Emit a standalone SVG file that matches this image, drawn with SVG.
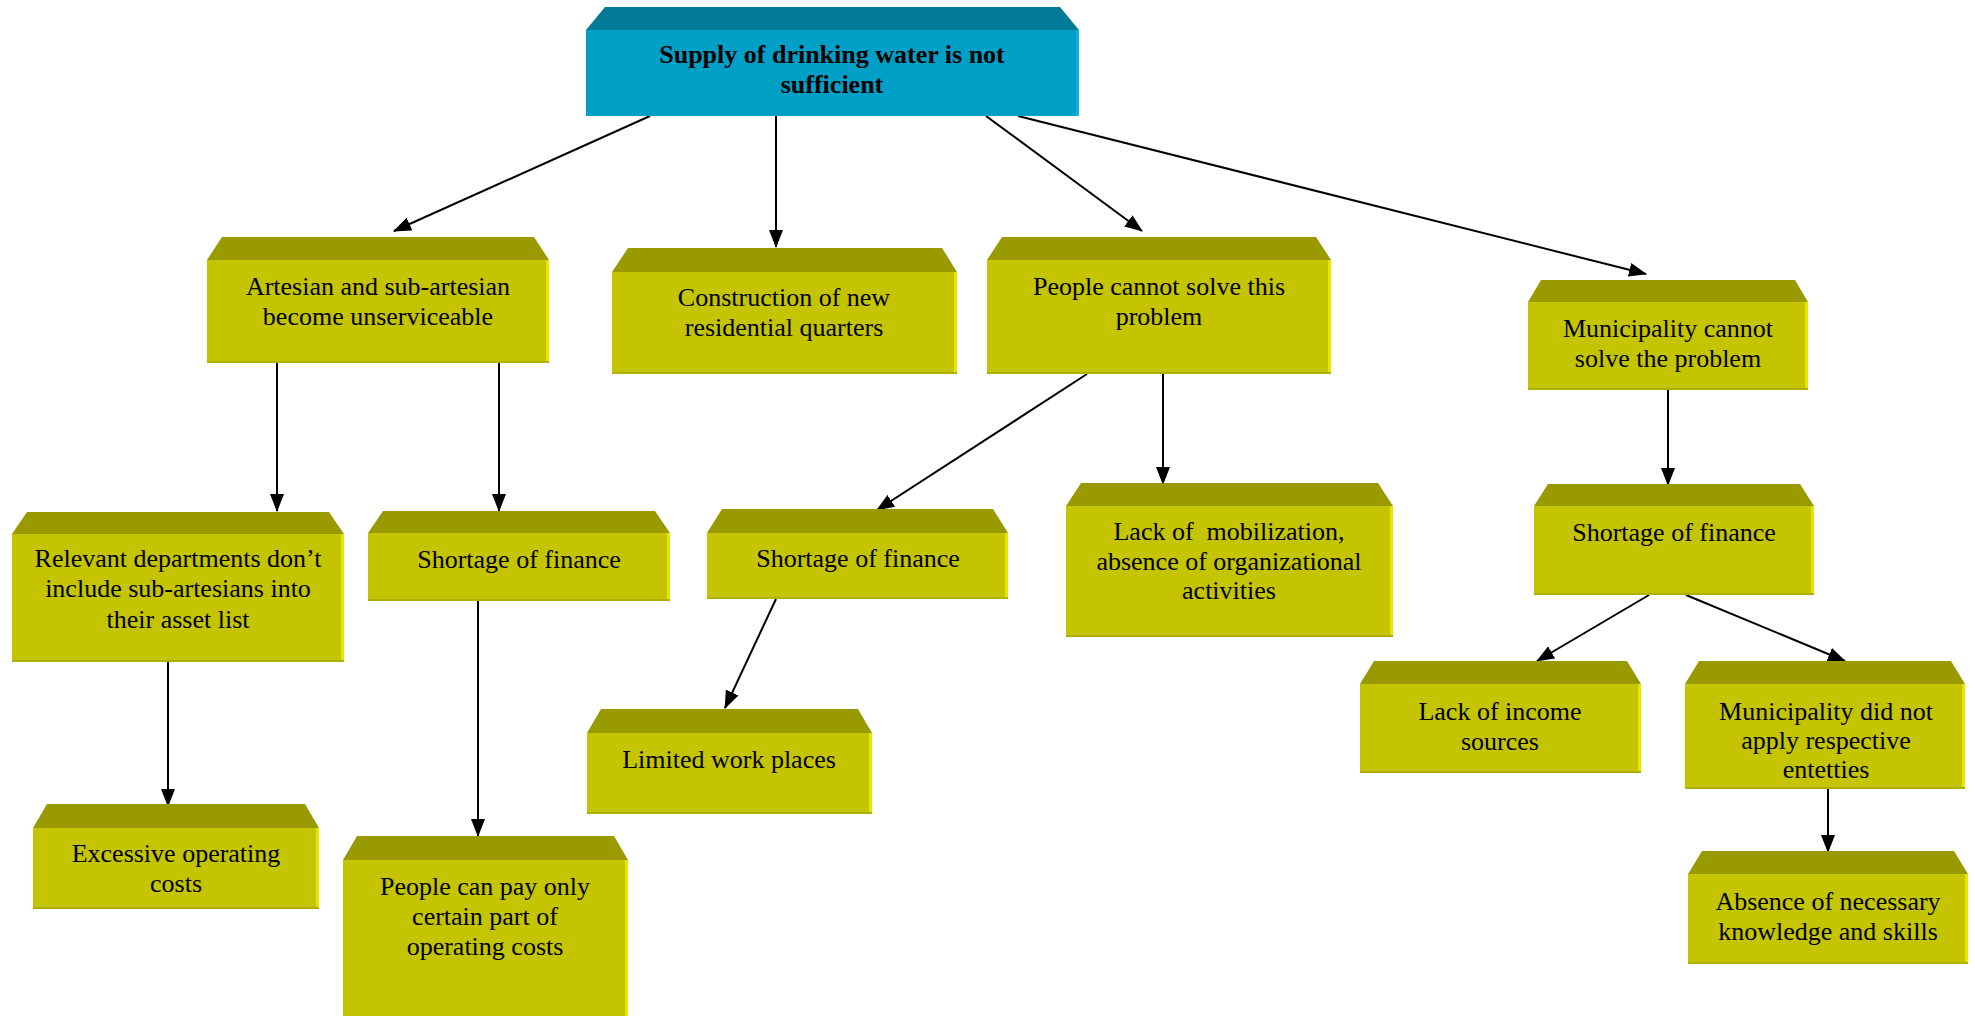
<svg xmlns="http://www.w3.org/2000/svg" width="1975" height="1016" viewBox="0 0 1975 1016">
<style>
.top{fill:#999900}
.front{fill:#C4C400}
.edge{fill:#E6E600}
.btm{fill:#B0B000}
.ttop{fill:#007A96}
.tfront{fill:#009FC6}
.tedge{fill:#10B0D8}
text{font-family:"Liberation Serif","Times New Roman",serif;font-size:26px;fill:#000;text-anchor:middle}
.bold{font-weight:bold}
.conn line{stroke:#000;stroke-width:2;marker-end:url(#arr)}
</style>
<defs>
<marker id="arr" markerUnits="userSpaceOnUse" markerWidth="18" markerHeight="14" refX="17" refY="7" orient="auto">
<path d="M0,0 L18,7 L0,14 z" fill="#000"/>
</marker>
</defs>
<rect width="1975" height="1016" fill="#fff"/>

<g id="connectors" class="conn">
<line x1="650" y1="116" x2="394" y2="231"/>
<line x1="776" y1="116" x2="776" y2="247"/>
<line x1="986" y1="116" x2="1142" y2="231"/>
<line x1="1018" y1="116" x2="1646" y2="274"/>
<line x1="277" y1="363" x2="277" y2="511"/>
<line x1="499" y1="363" x2="499" y2="511"/>
<line x1="168" y1="662" x2="168" y2="806"/>
<line x1="478" y1="601" x2="478" y2="836"/>
<line x1="1087" y1="374" x2="877" y2="510"/>
<line x1="1163" y1="374" x2="1163" y2="484"/>
<line x1="776" y1="599" x2="725" y2="708"/>
<line x1="1668" y1="390" x2="1668" y2="485"/>
<line x1="1649" y1="595" x2="1537" y2="661"/>
<line x1="1686" y1="595" x2="1845" y2="661"/>
<line x1="1828" y1="789" x2="1828" y2="852"/>
</g>

<g id="n-root">
<polygon class="ttop" points="605,7 1060,7 1079,30 586,30"/>
<rect class="tfront" x="586" y="30" width="493" height="86"/>
<rect class="tedge" x="1076" y="30" width="3" height="86"/>
<text class="bold" x="832" y="63">Supply of drinking water is not</text>
<text class="bold" x="832" y="93">sufficient</text>
</g>

<g id="n-artesian">
<polygon class="top" points="222,237 534,237 549,260 207,260"/>
<rect class="front" x="207" y="260" width="342" height="103"/>
<rect class="edge" x="546" y="260" width="3" height="103"/>
<rect class="btm" x="207" y="361" width="342" height="2"/>
<text x="378" y="295">Artesian and sub-artesian</text>
<text x="378" y="325">become unserviceable</text>
</g>

<g id="n-construction">
<polygon class="top" points="628,248 942,248 957,272 612,272"/>
<rect class="front" x="612" y="272" width="345" height="102"/>
<rect class="edge" x="954" y="272" width="3" height="102"/>
<rect class="btm" x="612" y="372" width="345" height="2"/>
<text x="784" y="306">Construction of new</text>
<text x="784" y="336">residential quarters</text>
</g>

<g id="n-people-cannot">
<polygon class="top" points="1002,237 1316,237 1331,260 987,260"/>
<rect class="front" x="987" y="260" width="344" height="114"/>
<rect class="edge" x="1328" y="260" width="3" height="114"/>
<rect class="btm" x="987" y="372" width="344" height="2"/>
<text x="1159" y="295">People cannot solve this</text>
<text x="1159" y="325">problem</text>
</g>

<g id="n-muni-cannot">
<polygon class="top" points="1541,280 1795,280 1808,302 1528,302"/>
<rect class="front" x="1528" y="302" width="280" height="88"/>
<rect class="edge" x="1805" y="302" width="3" height="88"/>
<rect class="btm" x="1528" y="388" width="280" height="2"/>
<text x="1668" y="337">Municipality cannot</text>
<text x="1668" y="367">solve the problem</text>
</g>

<g id="n-relevant">
<polygon class="top" points="27,512 329,512 344,534 12,534"/>
<rect class="front" x="12" y="534" width="332" height="128"/>
<rect class="edge" x="341" y="534" width="3" height="128"/>
<rect class="btm" x="12" y="660" width="332" height="2"/>
<text x="178" y="567">Relevant departments don’t</text>
<text x="178" y="597">include sub-artesians into</text>
<text x="178" y="628">their asset list</text>
</g>

<g id="n-shortage-1">
<polygon class="top" points="383,511 655,511 670,533 368,533"/>
<rect class="front" x="368" y="533" width="302" height="68"/>
<rect class="edge" x="667" y="533" width="3" height="68"/>
<rect class="btm" x="368" y="599" width="302" height="2"/>
<text x="519" y="568">Shortage of finance</text>
</g>

<g id="n-shortage-2">
<polygon class="top" points="722,509 993,509 1008,533 707,533"/>
<rect class="front" x="707" y="533" width="301" height="66"/>
<rect class="edge" x="1005" y="533" width="3" height="66"/>
<rect class="btm" x="707" y="597" width="301" height="2"/>
<text x="858" y="567">Shortage of finance</text>
</g>

<g id="n-lack-mobilization">
<polygon class="top" points="1081,483 1378,483 1393,506 1066,506"/>
<rect class="front" x="1066" y="506" width="327" height="131"/>
<rect class="edge" x="1390" y="506" width="3" height="131"/>
<rect class="btm" x="1066" y="635" width="327" height="2"/>
<text x="1229" y="540" xml:space="preserve">Lack of  mobilization,</text>
<text x="1229" y="570">absence of organizational</text>
<text x="1229" y="599">activities</text>
</g>

<g id="n-shortage-3">
<polygon class="top" points="1548,484 1800,484 1814,506 1534,506"/>
<rect class="front" x="1534" y="506" width="280" height="89"/>
<rect class="edge" x="1811" y="506" width="3" height="89"/>
<rect class="btm" x="1534" y="593" width="280" height="2"/>
<text x="1674" y="541">Shortage of finance</text>
</g>

<g id="n-excessive">
<polygon class="top" points="47,804 305,804 319,828 33,828"/>
<rect class="front" x="33" y="828" width="286" height="81"/>
<rect class="edge" x="316" y="828" width="3" height="81"/>
<rect class="btm" x="33" y="907" width="286" height="2"/>
<text x="176" y="862">Excessive operating</text>
<text x="176" y="892">costs</text>
</g>

<g id="n-people-pay">
<polygon class="top" points="357,836 614,836 628,860 343,860"/>
<rect class="front" x="343" y="860" width="285" height="160"/>
<rect class="edge" x="625" y="860" width="3" height="160"/>
<text x="485" y="895">People can pay only</text>
<text x="485" y="925">certain part of</text>
<text x="485" y="955">operating costs</text>
</g>

<g id="n-limited">
<polygon class="top" points="601,709 858,709 872,733 587,733"/>
<rect class="front" x="587" y="733" width="285" height="81"/>
<rect class="edge" x="869" y="733" width="3" height="81"/>
<rect class="btm" x="587" y="812" width="285" height="2"/>
<text x="729" y="768">Limited work places</text>
</g>

<g id="n-lack-income">
<polygon class="top" points="1374,661 1627,661 1641,684 1360,684"/>
<rect class="front" x="1360" y="684" width="281" height="89"/>
<rect class="edge" x="1638" y="684" width="3" height="89"/>
<rect class="btm" x="1360" y="771" width="281" height="2"/>
<text x="1500" y="720">Lack of income</text>
<text x="1500" y="750">sources</text>
</g>

<g id="n-muni-did-not">
<polygon class="top" points="1699,661 1951,661 1965,684 1685,684"/>
<rect class="front" x="1685" y="684" width="280" height="105"/>
<rect class="edge" x="1962" y="684" width="3" height="105"/>
<rect class="btm" x="1685" y="787" width="280" height="2"/>
<text x="1826" y="720">Municipality did not</text>
<text x="1826" y="749">apply respective</text>
<text x="1826" y="778">entetties</text>
</g>

<g id="n-absence">
<polygon class="top" points="1702,851 1954,851 1968,874 1688,874"/>
<rect class="front" x="1688" y="874" width="280" height="90"/>
<rect class="edge" x="1965" y="874" width="3" height="90"/>
<rect class="btm" x="1688" y="962" width="280" height="2"/>
<text x="1828" y="910">Absence of necessary</text>
<text x="1828" y="940">knowledge and skills</text>
</g>
</svg>
